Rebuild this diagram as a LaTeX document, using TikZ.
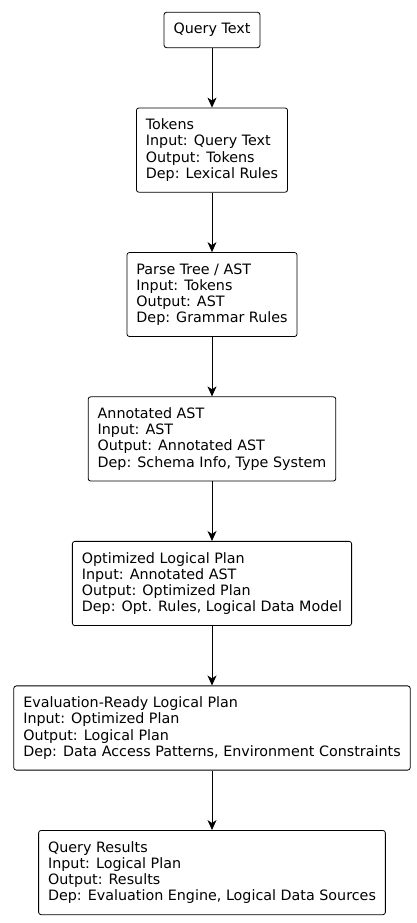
\documentclass[tikz,border=0pt]{standalone}
\usepackage{fontspec}
\setmainfont{DejaVu Sans}
\usepackage{xcolor}
\usetikzlibrary{positioning,arrows.meta}

\begin{document}
\begin{tikzpicture}[x=1pt,y=1pt,
  stagebox/.style={draw=drawColor,fill=fillColor,line width=0.8pt,rounded corners=2.5pt,
    align=left,inner xsep=9.5pt,inner ysep=10.9pt,font=\fontsize{14.3}{16.2}\selectfont},
  flow/.style={draw=drawColor,line width=0.8pt,-{Stealth[length=10pt,width=9pt,inset=3pt]}}]
\definecolor{fillColor}{RGB}{255,255,255}
\definecolor{drawColor}{RGB}{0,0,0}
\path[use as bounding box,fill=fillColor] (0,0) rectangle (417,923);

\node[stagebox] (qtext) at (212,893) {Query Text};
\node[stagebox,below=59.5pt of qtext] (tokens) {Tokens\\Input: Query Text\\Output: Tokens\\Dep: Lexical Rules};
\node[stagebox,below=59.5pt of tokens] (parse) {Parse Tree / AST\\Input: Tokens\\Output: AST\\Dep: Grammar Rules};
\node[stagebox,below=59.5pt of parse] (annot) {Annotated AST\\Input: AST\\Output: Annotated AST\\Dep: Schema Info, Type System};
\node[stagebox,below=59.5pt of annot] (optim) {Optimized Logical Plan\\Input: Annotated AST\\Output: Optimized Plan\\Dep: Opt. Rules, Logical Data Model};
\node[stagebox,below=59.5pt of optim] (evalp) {Evaluation-Ready Logical Plan\\Input: Optimized Plan\\Output: Logical Plan\\Dep: Data Access Patterns, Environment Constraints};
\node[stagebox,below=59.5pt of evalp] (results) {Query Results\\Input: Logical Plan\\Output: Results\\Dep: Evaluation Engine, Logical Data Sources};

\draw[flow] (qtext) -- (tokens);
\draw[flow] (tokens) -- (parse);
\draw[flow] (parse) -- (annot);
\draw[flow] (annot) -- (optim);
\draw[flow] (optim) -- (evalp);
\draw[flow] (evalp) -- (results);
\end{tikzpicture}
\end{document}
